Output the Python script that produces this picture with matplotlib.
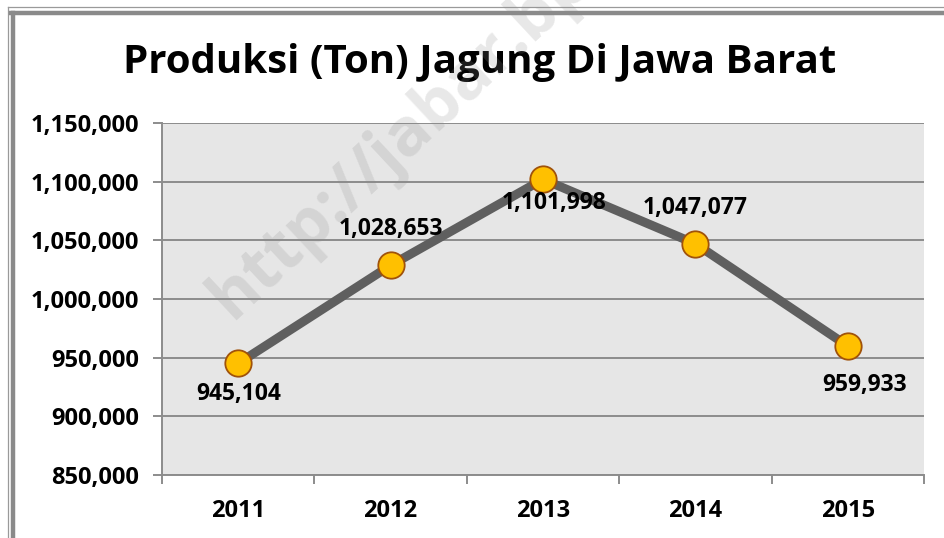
import matplotlib
matplotlib.use("Agg")
import matplotlib.pyplot as plt
from matplotlib.lines import Line2D
from matplotlib.ticker import FuncFormatter, MultipleLocator

years = ["2011", "2012", "2013", "2014", "2015"]
production = [945104, 1028653, 1101998, 1047077, 959933]
label_pos = ["below", "above", "below_right", "above", "below_right2"]

W, H = 944, 538
fig = plt.figure(figsize=(W / 100, H / 100), dpi=100)
fig.patch.set_facecolor("white")

FONT = "Open Sans"

def fx(px):
    return px / W

def fy(py):
    return 1 - py / H

# chart frame
fig.add_artist(Line2D([fx(8), fx(8)], [fy(7), fy(540)], color="#9a9a9a", lw=0.9, transform=fig.transFigure))
fig.add_artist(Line2D([fx(8), fx(950)], [fy(7), fy(7)], color="#9a9a9a", lw=0.9, transform=fig.transFigure))
fig.add_artist(Line2D([fx(12.5), fx(12.5)], [fy(12.5), fy(540)], color="#8a8a8a", lw=3.2, transform=fig.transFigure))
fig.add_artist(Line2D([fx(11), fx(950)], [fy(12.5), fy(12.5)], color="#8a8a8a", lw=3.2, transform=fig.transFigure))

ax = fig.add_axes([fx(162), 1 - 475 / H, (924 - 162) / W, (475 - 123) / H])
ax.set_facecolor("#e6e6e6")
x = list(range(len(years)))
ax.plot(x, production, color="#5f5f5f", lw=6.5, solid_capstyle="butt", zorder=3,
        marker="o", markersize=19, markerfacecolor="#ffc000",
        markeredgecolor="#a0520a", markeredgewidth=1.3)

ax.set_xlim(-0.5, len(years) - 0.5)
ax.set_ylim(850000, 1150000)
ax.yaxis.set_major_locator(MultipleLocator(50000))
ax.yaxis.set_major_formatter(FuncFormatter(lambda v, p: f"{int(v):,}"))
ax.set_xticks(x)
ax.set_xticklabels(years)
ax.set_xticks([i - 0.5 for i in range(len(years) + 1)], minor=True)
ax.grid(axis="y", color="#8c8c8c", lw=1.4, zorder=1)
ax.set_axisbelow(True)
for s in ["top", "right"]:
    ax.spines[s].set_visible(False)
for s in ["left", "bottom"]:
    ax.spines[s].set_color("#8c8c8c")
    ax.spines[s].set_linewidth(1.4)
ax.tick_params(axis="y", which="major", direction="out", length=6.5, width=1.4, color="#8c8c8c",
               labelsize=17, pad=10)
ax.tick_params(axis="x", which="major", length=0, labelsize=17, pad=17)
ax.tick_params(axis="x", which="minor", direction="out", length=6.5, width=1.4, color="#8c8c8c")
for lab in ax.get_yticklabels() + ax.get_xticklabels():
    lab.set_fontfamily(FONT)
    lab.set_fontweight("bold")
    lab.set_color("black")

offsets = {"below": (0, -22), "above": (0, 26), "below_right": (8, -17), "below_right2": (12, -28)}
for xi, v, pos in zip(x, production, label_pos):
    dx, dy = offsets[pos]
    ax.annotate(f"{v:,}", (xi, v), xytext=(dx, dy), textcoords="offset points",
                ha="center", va="center", fontsize=16.5, fontweight="bold",
                fontfamily=FONT, color="black", zorder=5)

fig.text(fx(480), fy(62), "Produksi (Ton) Jagung Di Jawa Barat", ha="center", va="center",
         fontsize=29, fontweight="bold", fontfamily=FONT, color="black")

# watermark
fig.text(fx(232), fy(320), "http://jabar.bps.go.id", rotation=43, rotation_mode="anchor",
         ha="left", va="baseline", fontsize=48, fontweight="bold", fontfamily=FONT,
         color="#8c8c8c", alpha=0.2, zorder=10)

fig.savefig("out.png", dpi=100)
